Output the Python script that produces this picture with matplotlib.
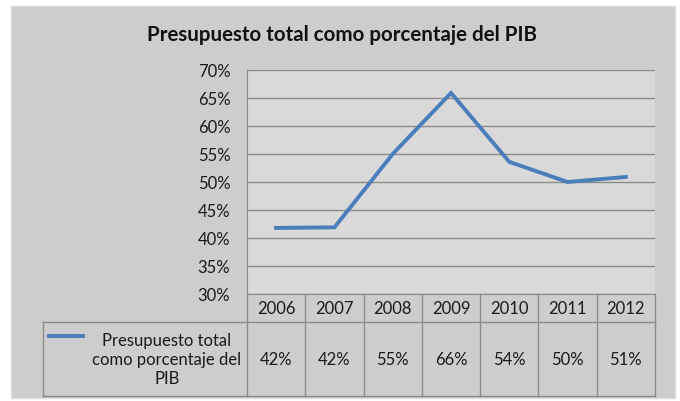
import matplotlib
matplotlib.use("Agg")
import matplotlib.pyplot as plt
from matplotlib.patches import Rectangle
from matplotlib.ticker import PercentFormatter

plt.rcParams['font.family'] = ['Lato', 'DejaVu Sans']

years = ["2006", "2007", "2008", "2009", "2010", "2011", "2012"]
values = [41.8, 41.9, 55.0, 65.9, 53.6, 50.0, 50.9]
table_labels = ["42%", "42%", "55%", "66%", "54%", "50%", "51%"]
series_name = "Presupuesto total\ncomo porcentaje del\nPIB"
title = "Presupuesto total como porcentaje del PIB"

W, H = 680, 402
fig = plt.figure(figsize=(W / 100, H / 100), dpi=100, facecolor="white")

# outer chart area
fig.patches.append(Rectangle((11 / W, 1 - 399 / H), 664 / W, 392 / H,
                             transform=fig.transFigure, facecolor="#cdcdcd",
                             edgecolor="#dcdcdc", lw=1, zorder=-5))

# plot area in pixels: x 247-655, y 71-295
left, right, top, bottom = 247, 655, 71, 295
ax = fig.add_axes([left / W, 1 - bottom / H, (right - left) / W, (bottom - top) / H])
ax.set_zorder(2)
ax.set_facecolor("#d9d9d9")

line_color = "#4a7ebb"
grid_color = "#8c8c8c"
x = list(range(len(years)))
ax.plot(x, values, color=line_color, lw=2.8, solid_joinstyle="miter", zorder=3)

ax.set_xlim(-0.5, len(years) - 0.5)
ax.set_ylim(30, 70)
ax.set_yticks(range(30, 71, 5))
ax.yaxis.set_major_formatter(PercentFormatter(decimals=0))
ax.set_xticks([])
ax.grid(axis="y", color=grid_color, lw=1)
ax.set_axisbelow(True)
ax.tick_params(axis="y", length=0, pad=12, labelsize=12, labelcolor="#1a1a1a")
for s in ["top", "right"]:
    ax.spines[s].set_visible(False)
for s in ["left", "bottom"]:
    ax.spines[s].set_color(grid_color)

# data table below the plot
ph = bottom - top
pw = right - left
h1 = 28 / ph
h2 = 74 / ph
lab_w = 204 / pw
tb = ax.get_xaxis_transform()
ta = ax.transAxes
kw = dict(color=grid_color, lw=1, clip_on=False)
for i in range(len(years) + 1):
    ax.plot([i - 0.5, i - 0.5], [0, -(h1 + h2)], transform=tb, **kw)
ax.plot([-lab_w, 1], [-h1, -h1], transform=ta, **kw)
ax.plot([-lab_w, 1], [-(h1 + h2), -(h1 + h2)], transform=ta, **kw)
ax.plot([-lab_w, -lab_w], [-h1, -(h1 + h2)], transform=ta, **kw)

for i, (yr, lab) in enumerate(zip(years, table_labels)):
    ax.text(i, -h1 / 2, yr, transform=tb, ha="center", va="center",
            fontsize=12, color="#1a1a1a")
    ax.text(i, -h1 - h2 / 2, lab, transform=tb, ha="center", va="center",
            fontsize=12, color="#1a1a1a")

# legend key and series name
key_y = -(337 - bottom) / ph
ax.plot([-(247 - 47) / pw, -(247 - 85) / pw], [key_y, key_y], transform=ta,
        color=line_color, lw=2.8, clip_on=False, solid_capstyle="butt")
ax.text(-(247 - 167) / pw, -h1 - h2 / 2, series_name, transform=ta,
        ha="center", va="center", fontsize=12, color="#1a1a1a",
        linespacing=1.25)

fig.text(342 / W, 1 - 35 / H, title, ha="center", va="center",
         fontsize=14.8, fontweight="bold", color="#111111")

fig.savefig("out.png", dpi=100, facecolor="white")
